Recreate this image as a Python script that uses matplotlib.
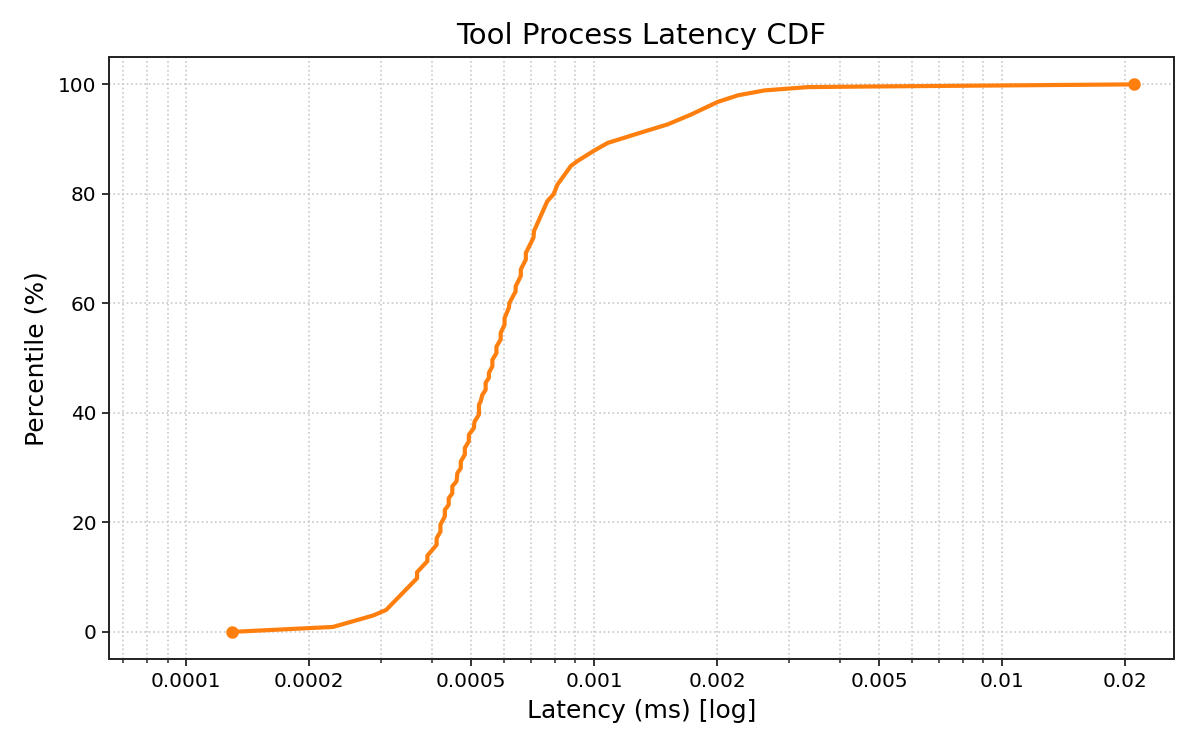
import matplotlib
matplotlib.use("Agg")
import matplotlib.pyplot as plt
from matplotlib.ticker import FixedLocator, FixedFormatter, LogLocator, NullFormatter

# Latency (ms) and cumulative percentile (%)
latency_ms = [
    0.0001295, 0.000229, 0.0002875, 0.000309, 0.000368, 0.000368,
    0.000390, 0.000390, 0.000411, 0.000411, 0.000420, 0.000420,
    0.0004305, 0.0004305, 0.000440, 0.000440, 0.000449, 0.000449,
    0.000460, 0.000462, 0.000471, 0.000471, 0.000482, 0.000482,
    0.000493, 0.000493, 0.000507, 0.000509, 0.000522, 0.000522,
    0.000527, 0.000532, 0.000542, 0.000542, 0.000552, 0.000552,
    0.000563, 0.000563, 0.000576, 0.000576, 0.000590, 0.000590,
    0.000603, 0.000603, 0.000618, 0.000620, 0.000642, 0.000642,
    0.000661, 0.000661, 0.000680, 0.000680, 0.000710, 0.000712,
    0.000768, 0.000795, 0.000813, 0.000877, 0.000910, 0.001000,
    0.001079, 0.001302, 0.001515, 0.001729, 0.002009, 0.002251,
    0.002617, 0.003344, 0.004521, 0.02106,
]
percentile = [
    0.0, 0.9, 3.0, 4.0, 9.8, 10.9,
    12.9, 13.9, 15.9, 17.1, 18.3, 19.6,
    21.1, 22.3, 23.2, 24.4, 25.3, 26.6,
    27.5, 29.0, 29.9, 31.1, 32.4, 33.6,
    34.8, 36.0, 37.2, 38.4, 39.7, 41.5,
    42.1, 43.3, 44.2, 45.5, 46.4, 47.3,
    48.5, 49.7, 50.9, 52.1, 53.4, 54.6,
    56.1, 57.3, 59.2, 60.1, 62.2, 63.1,
    65.0, 66.2, 68.0, 69.2, 72.0, 73.2,
    78.7, 79.9, 81.7, 85.1, 86.0, 87.9,
    89.3, 91.2, 92.7, 94.5, 96.8, 98.0,
    98.9, 99.5, 99.6, 100.0,
]

major_ticks = [0.0001, 0.0002, 0.0005, 0.001, 0.002, 0.005, 0.01, 0.02]
major_labels = ["0.0001", "0.0002", "0.0005", "0.001", "0.002", "0.005", "0.01", "0.02"]

fig = plt.figure(figsize=(10, 6.25), dpi=120)
ax = fig.add_axes([0.091, 0.121, 0.887, 0.803])

color = "#ff7f0e"
ax.plot(latency_ms, percentile, color=color, lw=2.5, zorder=3)
ax.plot([latency_ms[0], latency_ms[-1]], [percentile[0], percentile[-1]],
        "o", color=color, ms=6.5, zorder=4)

ax.set_xscale("log")
ax.set_xlim(latency_ms[0] / 2, latency_ms[-1] * 1.25)
ax.set_ylim(-5, 105)

ax.xaxis.set_major_locator(FixedLocator(major_ticks))
ax.xaxis.set_major_formatter(FixedFormatter(major_labels))
ax.xaxis.set_minor_locator(LogLocator(base=10, subs=(3, 4, 6, 7, 8, 9)))
ax.xaxis.set_minor_formatter(NullFormatter())
ax.set_yticks([0, 20, 40, 60, 80, 100])

ax.grid(True, which="both", axis="x", linestyle=":", color="#c8c8c8", lw=1.0)
ax.grid(True, which="major", axis="y", linestyle=":", color="#c8c8c8", lw=1.0)
ax.set_axisbelow(True)

for s in ax.spines.values():
    s.set_linewidth(1.2)
    s.set_color("#262626")
ax.tick_params(axis="both", which="major", labelsize=12, length=4, width=1.1, color="#262626")
ax.tick_params(axis="x", which="minor", length=2.5, width=0.9, color="#262626")

ax.set_title("Tool Process Latency CDF", fontsize=17.5, pad=8)
ax.set_xlabel("Latency (ms) [log]", fontsize=15, labelpad=5)
ax.set_ylabel("Percentile (%)", fontsize=15, labelpad=6)

fig.savefig("out.png", dpi=120)
